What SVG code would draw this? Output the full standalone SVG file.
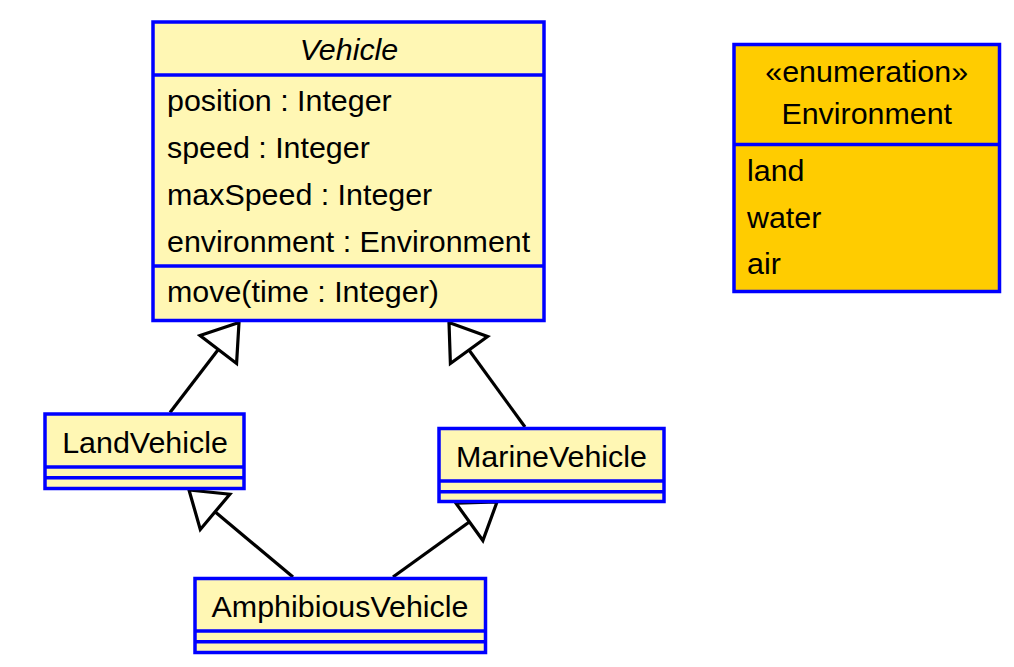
<svg xmlns="http://www.w3.org/2000/svg" width="1014" height="667" viewBox="0 0 1014 667">
<style>
.box{fill:#FFF7B4;stroke:#0000FF;stroke-width:3.5}
.enum{fill:#FFCC00;stroke:#0000FF;stroke-width:3.5}
.sep{stroke:#0000FF;stroke-width:3.5;fill:none}
.t{font-family:"Liberation Sans",Arial,sans-serif;font-size:30.4px;fill:#000}
.c{text-anchor:middle}
.i{font-style:italic}
.edge{stroke:#000;stroke-width:3.2;fill:none;marker-end:url(#gen)}
</style>
<defs>
<marker id="gen" markerUnits="userSpaceOnUse" viewBox="0 0 34 46" refX="34" refY="23" markerWidth="34" markerHeight="46" orient="auto" overflow="visible">
<path d="M0,0 L34,23 L0,46 Z" fill="#fff" stroke="#000" stroke-width="3.2" stroke-linejoin="miter"/>
</marker>
</defs>
<rect width="1014" height="667" fill="#fff"/>
<g id="connectors">
<path class="edge" d="M170,412.5 L239,322.5"/>
<path class="edge" d="M525,427 L449,322.5"/>
<path class="edge" d="M293,577 L189,490"/>
<path class="edge" d="M393,577 L497,502"/>
</g>
<g id="Vehicle">
<rect class="box" x="153" y="22" width="391" height="298.5"/>
<line class="sep" x1="153" y1="75" x2="544" y2="75"/>
<line class="sep" x1="153" y1="266" x2="544" y2="266"/>
<text class="t c i" x="349" y="60">Vehicle</text>
<text class="t" x="167" y="111">position : Integer</text>
<text class="t" x="167" y="158">speed : Integer</text>
<text class="t" x="167" y="205">maxSpeed : Integer</text>
<text class="t" x="167" y="252">environment : Environment</text>
<text class="t" x="167" y="302">move(time : Integer)</text>
</g>
<g id="Environment">
<rect class="enum" x="734" y="44.5" width="265.5" height="247"/>
<line class="sep" x1="734" y1="144.5" x2="999.5" y2="144.5"/>
<text class="t c" x="866.7" y="82">«enumeration»</text>
<text class="t c" x="866.7" y="124">Environment</text>
<text class="t" x="747" y="181">land</text>
<text class="t" x="747" y="228">water</text>
<text class="t" x="747" y="274">air</text>
</g>
<g id="LandVehicle">
<rect class="box" x="45" y="414" width="199" height="74.5"/>
<line class="sep" x1="45" y1="467" x2="244" y2="467"/>
<line class="sep" x1="45" y1="477.7" x2="244" y2="477.7"/>
<text class="t c" x="145" y="452.5">LandVehicle</text>
</g>
<g id="MarineVehicle">
<rect class="box" x="439" y="428.5" width="225" height="73"/>
<line class="sep" x1="439" y1="481" x2="664" y2="481"/>
<line class="sep" x1="439" y1="491.7" x2="664" y2="491.7"/>
<text class="t c" x="551.5" y="467">MarineVehicle</text>
</g>
<g id="AmphibiousVehicle">
<rect class="box" x="195" y="578.5" width="290.5" height="74"/>
<line class="sep" x1="195" y1="631" x2="485.5" y2="631"/>
<line class="sep" x1="195" y1="641.7" x2="485.5" y2="641.7"/>
<text class="t c" x="340" y="617">AmphibiousVehicle</text>
</g>
</svg>
